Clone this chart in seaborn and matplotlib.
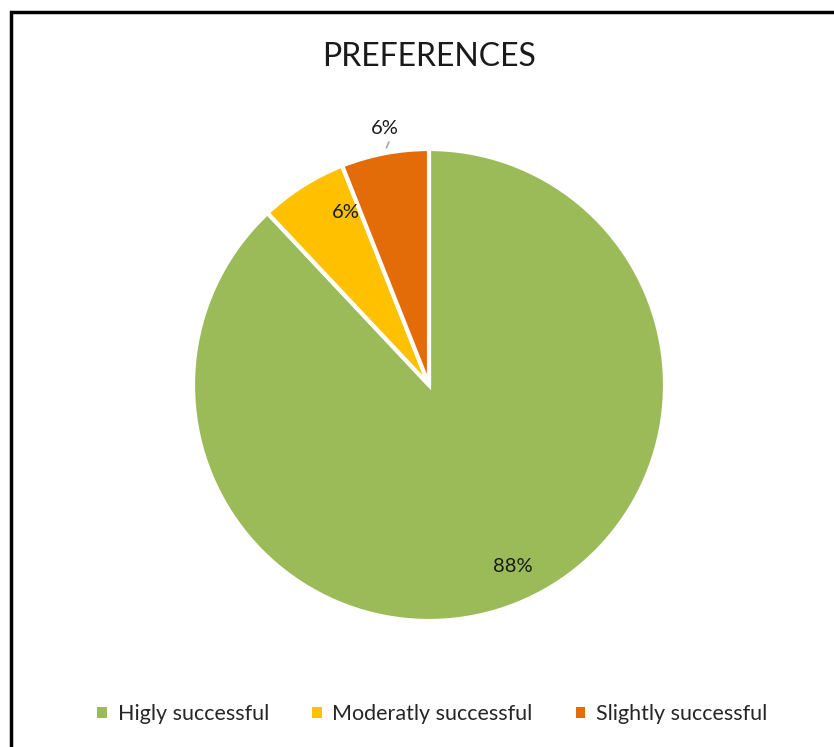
import matplotlib
matplotlib.use("Agg")
import matplotlib.pyplot as plt
from matplotlib.patches import Patch
import seaborn as sns

categories = ["Higly successful", "Moderatly successful", "Slightly successful"]
shares = [88, 6, 6]
share_labels = ["88%", "6%", "6%"]

sns.set_theme(style="white")
plt.rcParams["font.family"] = ["Lato", "DejaVu Sans"]
palette = sns.color_palette(["#9BBB59", "#FFC000", "#E36C09"])

W, H = 834, 747
fig = plt.figure(figsize=(W / 100, H / 100), dpi=100)

# frame around the chart area
frame = plt.Rectangle((11 / W, -0.5), 2.0, 1.5 - 11.5 / H, transform=fig.transFigure,
                      fill=False, edgecolor="black", linewidth=2.5, zorder=0)
fig.patches.append(frame)

cx, cy, r = 429, 385, 236
ax = fig.add_axes([(cx - r) / W, (H - cy - r) / H, 2 * r / W, 2 * r / H])
wedges, _ = ax.pie(shares, colors=palette, startangle=90, counterclock=False,
                   radius=1.0, wedgeprops=dict(edgecolor="white", linewidth=3))
ax.set_xlim(-1, 1)
ax.set_ylim(-1, 1)
ax.set_aspect("equal")
ax.axis("off")

# value labels
label_pos = [(0.356, -0.771), (-0.352, 0.729), (-0.186, 1.085)]
for (x, y), txt in zip(label_pos, share_labels):
    ax.text(x, y, txt, ha="center", va="center", fontsize=14.5, color="#1a1a1a",
            clip_on=False)
ax.plot([-0.18, -0.17], [1.005, 1.03], color="#a6a6a6", linewidth=1.2, clip_on=False)

fig.text(cx / W, 1 - 57 / H, "PREFERENCES", ha="center", va="center",
         fontsize=23, color="#1a1a1a")

handles = [Patch(facecolor=c, edgecolor="none") for c in palette]
fig.legend(handles, categories, loc="center", bbox_to_anchor=(cx / W + 0.004, 1 - 714 / H),
           ncol=3, frameon=False, fontsize=15.5, handlelength=0.45, handleheight=0.45,
           handletextpad=0.5, columnspacing=2.0)

fig.savefig("out.png", dpi=100, facecolor="white")
